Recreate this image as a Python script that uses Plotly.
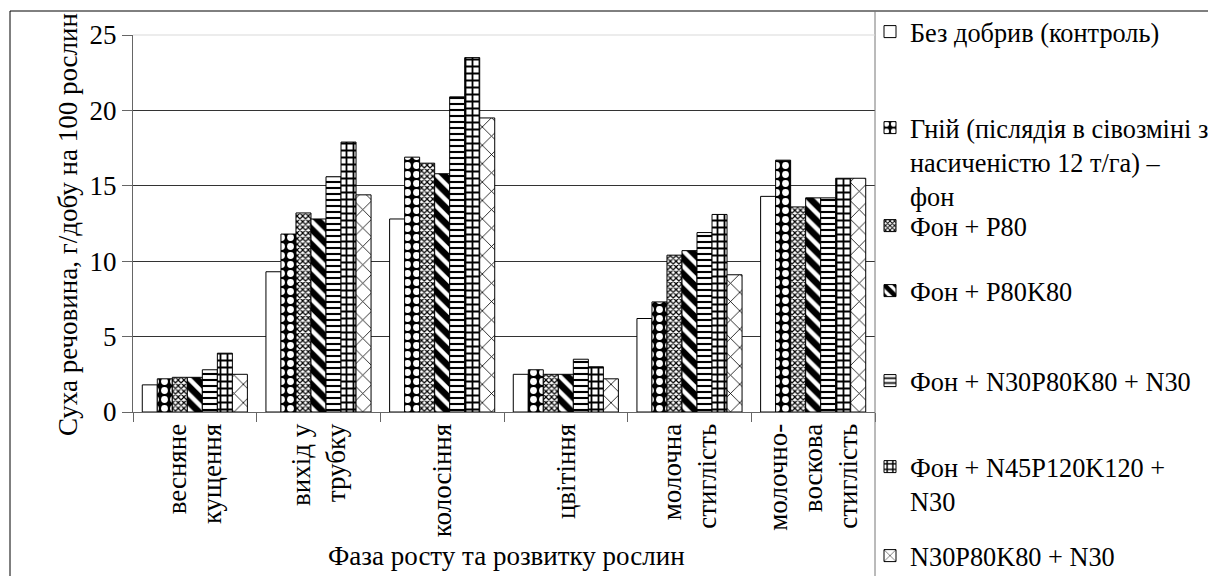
import plotly.graph_objects as go

# ---------------- data ----------------
categories = ["весняне<br>кущення", "вихід у<br>трубку", "колосіння", "цвітіння",
              "молочна<br>стиглість", "молочно-<br>воскова<br>стиглість"]

series_names = [
    "Без добрив (контроль)",
    "Гній (післядія в сівозміні з<br>насиченістю 12 т/га) –<br>фон",
    "Фон + P80",
    "Фон + P80K80",
    "Фон + N30P80K80 + N30",
    "Фон + N45P120K120 +<br>N30",
    "N30P80K80 + N30",
]

control = [1.8, 9.3, 12.8, 2.5, 6.2, 14.3]
manure = [2.2, 11.8, 16.9, 2.8, 7.3, 16.7]
fon_p80 = [2.3, 13.2, 16.5, 2.5, 10.4, 13.6]
fon_p80k80 = [2.3, 12.8, 15.8, 2.5, 10.7, 14.2]
fon_n30p80k80_n30 = [2.8, 15.6, 20.9, 3.5, 11.9, 14.2]
fon_n45p120k120_n30 = [3.9, 17.9, 23.5, 3.0, 13.1, 15.5]
n30p80k80_n30 = [2.5, 14.4, 19.5, 2.2, 9.1, 15.5]

series_values = [control, manure, fon_p80, fon_p80k80,
                 fon_n30p80k80_n30, fon_n45p120k120_n30, n30p80k80_n30]

y_ticks = [0, 5, 10, 15, 20, 25]

# ---------------- styles ----------------
FONT = "Liberation Serif, Times New Roman, serif"
FS = 27
LFS = 26.3
W, H = 1208, 576
ML, MR, MT, MB = 133, 333, 35, 164
PW = W - ML - MR
PH = H - MT - MB


def px_x(px):
    return (px - ML) / PW


def px_y(py):
    return (H - MB - py) / PH


patterns = [
    dict(shape=""),
    dict(shape=".", bgcolor="black", fgcolor="white", size=9, solidity=0.45, fillmode="replace"),
    dict(shape="x", bgcolor="white", fgcolor="black", size=4, solidity=0.5, fillmode="replace"),
    dict(shape="\\", bgcolor="white", fgcolor="black", size=11, solidity=0.6, fillmode="replace"),
    dict(shape="-", bgcolor="white", fgcolor="black", size=6, solidity=0.35, fillmode="replace"),
    dict(shape="+", bgcolor="white", fgcolor="black", size=7, solidity=0.45, fillmode="replace"),
    dict(shape="x", bgcolor="white", fgcolor="black", size=13, solidity=0.12, fillmode="replace"),
]

# legend centre positions (pixels) for each entry
legend_centres = [32, 162, 226, 291, 381, 484, 556]

fig = go.Figure()
legend_layouts = {}
for i, (name, vals, pat) in enumerate(zip(series_names, series_values, patterns)):
    lname = "legend" if i == 0 else f"legend{i + 1}"
    fig.add_trace(go.Bar(
        x=categories, y=vals, name=name,
        marker=dict(color="white", line=dict(color="black", width=1), pattern=pat),
        legend=lname,
    ))
    legend_layouts[lname] = dict(
        x=px_x(870), y=px_y(legend_centres[i]), xanchor="left", yanchor="middle",
        bgcolor="rgba(0,0,0,0)", borderwidth=0, valign="top",
        font=dict(family=FONT, size=LFS, color="black"),
    )

fig.update_layout(
    width=W, height=H,
    margin=dict(l=ML, r=MR, t=MT, b=MB, autoexpand=False),
    paper_bgcolor="white", plot_bgcolor="white",
    barmode="group", bargap=0.15, bargroupgap=0,
    font=dict(family=FONT, size=FS, color="black"),
    showlegend=True,
    **legend_layouts,
)

fig.update_xaxes(
    type="category", tickangle=-90, tickson="boundaries",
    ticks="outside", ticklen=9, tickcolor="#666", tickwidth=1,
    showline=True, linecolor="#666", linewidth=1,
    showgrid=False,
    tickfont=dict(family=FONT, size=FS, color="black"),
)
fig.update_yaxes(
    range=[0, 25], tickvals=y_ticks, ticktext=[str(v) for v in y_ticks],
    ticks="outside", ticklen=10, tickcolor="#666", tickwidth=1,
    showline=True, linecolor="#666", linewidth=1,
    showgrid=True, gridcolor="#333", gridwidth=1, zeroline=False,
    tickfont=dict(family=FONT, size=FS, color="black"),
)

# axis titles
fig.add_annotation(
    text="Суха речовина, г/добу на 100 рослин", textangle=-90,
    xref="paper", yref="paper", x=px_x(68), y=px_y(225),
    xanchor="center", yanchor="middle", showarrow=False,
    font=dict(family=FONT, size=FS, color="black"),
)
fig.add_annotation(
    text="Фаза росту та розвитку рослин",
    xref="paper", yref="paper", x=px_x(506), y=px_y(556),
    xanchor="center", yanchor="middle", showarrow=False,
    font=dict(family=FONT, size=FS, color="black"),
)

# chart frame, legend separator, light top gridline
fig.add_shape(type="line", xref="paper", yref="paper",
              x0=px_x(10), x1=px_x(1208), y0=px_y(11), y1=px_y(11),
              line=dict(color="black", width=1))
fig.add_shape(type="line", xref="paper", yref="paper",
              x0=px_x(10), x1=px_x(10), y0=px_y(11), y1=px_y(576),
              line=dict(color="black", width=1))
fig.add_shape(type="line", xref="paper", yref="paper",
              x0=1, x1=1, y0=px_y(11), y1=px_y(576),
              line=dict(color="#777", width=1))
fig.add_shape(type="line", xref="paper", yref="paper",
              x0=0, x1=1, y0=1, y1=1, layer="above",
              line=dict(color="#d9d9d9", width=1))

fig.write_html("out.html", config={"displayModeBar": False},
               post_script="document.body.style.margin='0';")
